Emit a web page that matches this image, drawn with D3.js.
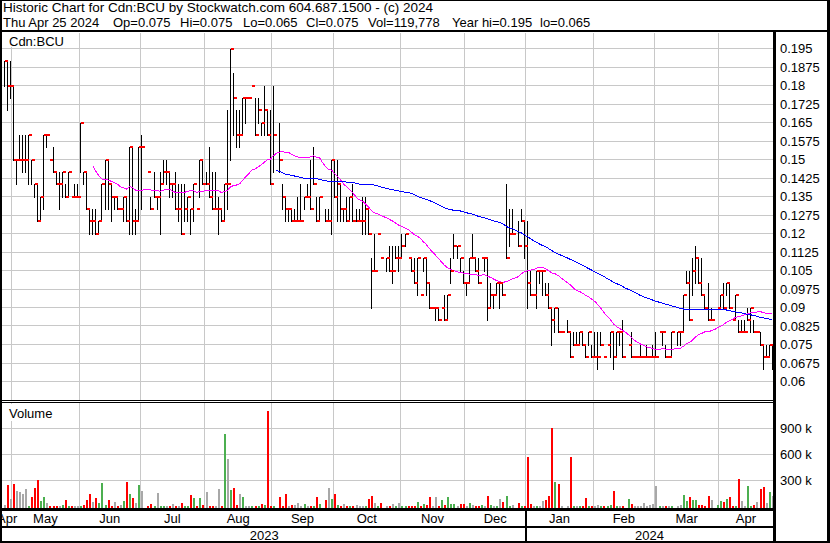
<!DOCTYPE html>
<html><head><meta charset="utf-8">
<script src="https://cdn.jsdelivr.net/npm/d3@7"></script>
<style>
html,body{margin:0;padding:0;background:#fff;}
svg{display:block;font-family:"Liberation Sans",Arial,sans-serif;}
text{font-size:13px;fill:#000;}
</style></head><body>
<svg id="c" width="830" height="543"></svg>
<script>
// ---- categories ----
const monthLabels = ["Apr","May","Jun","Jul","Aug","Sep","Oct","Nov","Dec","Jan","Feb","Mar","Apr"];
const monthBars   = [3,22,20,21,22,20,22,21,20,22,20,21,18];
const yearLabels  = ["2023","2024"];
const yearFirstMonth = [0, 9];

// ---- daily series (null = no trade) ----
const high = [
 .19,.19,.19,
 .18,.15,.16,.16,.16,.16,.15,.14,.14,.135,.16,.16,.15,.155,.145,.145,.145,.14,.145,.135,.14,.14,
 .165,.145,.145,.13,.13,.13,.125,.14,.15,.15,.14,.135,.135,.13,.135,.135,.155,.155,.13,.155,
 .16,null,.145,.135,.145,.135,.145,.15,.15,.145,.14,.145,.14,.14,.14,.135,.13,.14,.13,.15,.15,
 .145,.155,.145,.145,.135,.13,.14,.17,.195,.185,.17,.17,.175,.175,.175,.18,.175,.175,.165,.18,.17,.17,
 .18,null,.165,.14,.135,.13,.13,.13,.135,.14,.135,.14,.15,.155,.135,.135,null,.13,.13,.15,
 .15,.15,.14,.13,.135,.135,.14,.13,.13,.135,.135,.13,.11,.12,.12,.11,null,.11,.115,.115,.115,.115,
 .12,.12,.11,.11,.11,.11,.095,.11,.11,.10,.09,.09,.09,.09,.095,.095,.11,.12,.115,.11,.105,
 .10,.11,.12,.11,.11,.11,.11,.11,.10,.095,.10,.10,.10,.14,.13,.13,null,.125,.13,.125,
 .125,.105,.095,.105,.105,.105,.10,.10,.09,.09,.09,.08,null,.085,.08,.08,.08,.08,.08,.075,.08,.075,
 .08,.08,.08,.07,.075,.08,.08,.08,.08,.085,null,.075,.08,.07,.07,.075,.07,.075,.07,.075,
 .08,.08,.08,.075,.07,.08,null,.08,.08,.095,.105,.105,.11,.115,.11,.11,.095,.10,.09,null,.09,
 .095,.10,.10,.10,.085,.095,.085,.085,.085,.09,.09,.085,.08,.08,.075,.075,.075,.075
];
const low = [
 .18,.17,.175,
 .15,.14,.15,.145,.145,.14,.14,.135,.125,.125,.13,.155,.15,.145,.14,.13,.135,.135,.135,.135,.135,.135,
 .145,.14,.13,.12,.12,.12,.12,.125,.13,.13,.125,.13,.13,.13,.125,.125,.12,.12,.12,.125,
 .13,null,.145,.13,.135,.13,.12,.14,.14,.135,.135,.13,.125,.12,.125,.125,.12,.125,.13,.135,.14,
 .14,.135,.13,.13,.12,.125,.125,.13,.15,.16,.155,.155,.16,.165,.175,.18,.16,.165,.16,.16,.16,.14,
 .145,null,.145,.13,.125,.125,.125,.125,.125,.125,.13,.135,.13,.14,.125,.125,null,.125,.125,.12,
 .135,.125,.125,.125,.125,.125,.125,.125,.125,.12,.12,.12,.09,.105,.12,.11,null,.105,.105,.10,.11,.105,
 .11,.115,.11,.105,.10,.095,.095,.105,.095,.09,.09,.085,.085,.09,.085,.085,.10,.11,.11,.105,.10,
 .095,.10,.11,.105,.10,.11,.105,.085,.09,.09,.095,.09,.095,.11,.115,.12,null,.115,.125,.11,
 .09,.095,.095,.09,.10,.095,.095,.09,.075,.08,.08,.08,null,.08,.07,.075,.075,.075,.075,.07,.075,.07,
 .07,.065,.075,.07,.075,.07,.065,.07,.075,.07,null,.075,.07,.07,.07,.07,.07,.07,.07,.07,
 .07,.08,.075,.07,.07,.07,null,.075,.075,.08,.10,.085,.095,.10,.10,.095,.09,.085,.085,null,.09,
 .09,.09,.095,.09,.085,.085,.08,.08,.08,.085,.08,.08,.08,.075,.065,.07,.07,.065
];
const close = [
 .19,.18,.18,
 .15,.15,.15,.15,.15,.16,.15,.14,.125,.135,.16,.16,.15,.145,.14,.14,.145,.135,.145,.135,.135,.135,
 .165,.145,.13,.125,.125,.12,.125,.14,.15,.14,.135,.135,.13,.13,.135,.125,.155,.125,.125,.155,
 .155,null,.145,.13,.135,.135,.14,.145,.145,.14,.14,.13,.13,.12,.13,.135,.13,.14,.13,.15,.14,
 .14,.135,.13,.13,.13,.125,.14,.14,.195,.175,.16,.16,.175,.175,.175,.18,.16,.17,.165,.17,.16,.14,
 .16,null,.15,.135,.13,.13,.125,.125,.125,.125,.135,.135,.13,.14,.125,.135,null,.125,.125,.15,
 .135,.14,.13,.13,.125,.135,.125,.125,.125,.125,.13,.12,.105,.105,.12,.11,null,.11,.105,.105,.11,.11,
 .115,.12,.11,.105,.10,.11,.095,.11,.10,.09,.09,.09,.085,.09,.085,.095,.105,.115,.115,.11,.10,
 .10,.11,.11,.105,.10,.11,.11,.09,.095,.095,.10,.10,.095,.11,.12,.12,null,.115,.125,.115,
 .10,.095,.095,.105,.105,.105,.095,.09,.085,.09,.08,.08,null,.08,.07,.075,.075,.08,.075,.07,.08,.07,
 .07,.07,.075,.07,.075,.08,.07,.08,.08,.07,null,.075,.07,.07,.07,.07,.07,.07,.07,.07,
 .07,.08,.08,.07,.07,.08,null,.08,.08,.095,.10,.085,.105,.11,.10,.095,.09,.085,.085,null,.09,
 .095,.09,.10,.09,.085,.095,.08,.08,.08,.085,.09,.08,.08,.075,.07,.07,.075,.075
];
// volume in thousands of shares
const volumeK = [
 15,246,85,
 254,177,170,146,200,5,112,208,304,62,108,38,4,3,5,5,15,73,5,3,8,3,
 5,15,73,142,50,96,38,270,15,69,3,50,3,15,62,281,142,96,42,246,
 177,0,3,27,3,158,5,3,3,3,27,3,3,38,3,3,135,96,3,92,15,
 166,3,3,3,200,3,835,547,189,212,15,142,108,3,3,3,3,5,27,19,1100,3,
 3,0,104,3,142,3,15,15,35,3,27,3,8,8,108,27,0,73,212,85,
 142,15,5,27,3,3,5,15,3,5,3,85,119,38,5,38,0,3,3,27,3,38,
 3,3,3,5,3,50,3,27,15,108,3,108,5,73,15,108,27,27,3,27,27,
 3,38,15,3,3,15,3,119,15,3,3,85,50,119,5,15,0,38,3,5,
 570,27,3,5,3,62,73,119,900,281,258,3,0,5,570,5,3,3,3,96,3,3,
 5,15,5,3,5,15,173,3,3,3,0,85,27,5,3,3,38,5,15,27,
 235,5,3,5,3,3,0,5,15,131,62,108,73,73,15,15,5,119,73,0,15,
 62,50,85,108,3,5,315,62,3,235,5,15,50,200,223,38,166,120
];
const priorClose = 0.19;

// ---- tick labels / texts ----
const priceTicks = [0.195,0.1875,0.18,0.1725,0.165,0.1575,0.15,0.1425,0.135,0.1275,0.12,0.1125,0.105,0.0975,0.09,0.0825,0.075,0.0675,0.06];
const volumeTicks = [300,600,900];
const maPeriods = [30, 90];
const maColors = ["#ff00ff", "#0000ff"];
const headerLine1 = "Historic Chart for Cdn:BCU by Stockwatch.com 604.687.1500 - (c) 2024";
const headerItems = ["Thu Apr 25 2024","Op=0.075","Hi=0.075","Lo=0.065","Cl=0.075","Vol=119,778","Year hi=0.195","lo=0.065"];
const headerItemX = [3,113,180,243,306,368,452,540];

// ---- layout ----
const W = 830, H = 543;
const plotL = 2, plotR = 773, priceTop = 33, priceBot = 400, volTop = 403, volBot = 509;
const N = close.length;
const svg = d3.select("#c");
const x = d3.scaleLinear().domain([0, N - 1]).range([4.05, 772.3]);
const y = d3.scaleLinear().domain([0.06, 0.195]).range([381.5, 48.5]);
const yv = d3.scaleLinear().domain([0, 900]).range([506.3, 428.3]);
const gridC = "#c8c8c8";

svg.append("rect").attr("width", W).attr("height", H).attr("fill", "#fff");

const defs = svg.append("defs");
defs.append("clipPath").attr("id", "cp").append("rect")
  .attr("x", plotL).attr("y", priceTop).attr("width", plotR - plotL).attr("height", priceBot - priceTop);
defs.append("clipPath").attr("id", "cl").append("rect")
  .attr("x", plotL).attr("y", 511).attr("width", plotR - plotL).attr("height", 30);

// month boundaries
const cum = [0];
monthBars.forEach(c => cum.push(cum[cum.length - 1] + c));
const boundaries = cum.slice(1, monthBars.length).map(c => c - 0.5);
const px = v => Math.round(v) + 0.5;

const grid = svg.append("g").attr("stroke", gridC).attr("stroke-width", 1).attr("shape-rendering", "crispEdges");
priceTicks.forEach(t => grid.append("line").attr("x1", plotL).attr("x2", plotR).attr("y1", px(y(t) - 0.5)).attr("y2", px(y(t) - 0.5)));
volumeTicks.forEach(t => grid.append("line").attr("x1", plotL).attr("x2", plotR).attr("y1", px(yv(t) - 0.5)).attr("y2", px(yv(t) - 0.5)));
boundaries.forEach(b => {
  grid.append("line").attr("x1", px(x(b) - 0.5)).attr("x2", px(x(b) - 0.5)).attr("y1", priceTop).attr("y2", priceBot);
  grid.append("line").attr("x1", px(x(b) - 0.5)).attr("x2", px(x(b) - 0.5)).attr("y1", volTop).attr("y2", volBot);
});

// panel labels with white backing
svg.append("rect").attr("x", 3).attr("y", priceTop).attr("width", 62).attr("height", 14).attr("fill", "#fff");
svg.append("text").attr("x", 9).attr("y", 45.5).text("Cdn:BCU");
svg.append("rect").attr("x", 3).attr("y", volTop + 1).attr("width", 54).attr("height", 17).attr("fill", "#fff");
svg.append("text").attr("x", 9).attr("y", 418).text("Volume");

// price bars
const idx = d3.range(N).filter(i => close[i] != null);
const pg = svg.append("g").attr("clip-path", "url(#cp)").attr("shape-rendering", "crispEdges");
pg.selectAll("line.bar").data(idx.filter(i => high[i] > low[i])).join("line")
  .attr("x1", i => px(x(i) - 0.5)).attr("x2", i => px(x(i) - 0.5))
  .attr("y1", i => Math.round(y(high[i])) - 0.5).attr("y2", i => Math.round(y(low[i])) + 1)
  .attr("stroke", "#000").attr("stroke-width", 1);

// moving averages
const filled = [];
let lastC = priorClose;
close.forEach(c => { if (c != null) lastC = c; filled.push(lastC); });
maPeriods.forEach((p, k) => {
  const pts = d3.range(p - 1, N).map(i => [i, d3.mean(filled.slice(i - p + 1, i + 1))]);
  pg.append("path").datum(pts)
    .attr("d", d3.line().x(d => x(d[0])).y(d => y(d[1])))
    .attr("fill", "none").attr("stroke", maColors[k]).attr("stroke-width", 1);
});

pg.selectAll("rect.tick").data(idx).join("rect")
  .attr("x", i => Math.round(x(i) - 0.5) + 1).attr("width", 3)
  .attr("y", i => Math.round(y(close[i])) - 1).attr("height", 2)
  .attr("fill", "#ff0000");

// volume bars
const prevClose = [];
let pc = priorClose;
close.forEach(c => { prevClose.push(pc); if (c != null) pc = c; });
const volColor = i => close[i] > prevClose[i] ? "#4caf50" : (close[i] < prevClose[i] ? "#ff0000" : "#a8a8a8");
svg.append("g").attr("shape-rendering", "crispEdges")
  .selectAll("rect").data(idx.filter(i => volumeK[i] > 0)).join("rect")
  .attr("x", i => Math.round(x(i) - 0.5)).attr("width", 2)
  .attr("y", i => Math.round(Math.min(yv(volumeK[i]), 507))).attr("height", i => volBot - Math.round(Math.min(yv(volumeK[i]), 507)))
  .attr("fill", volColor);

// frame lines
const fr = svg.append("g").attr("fill", "#000").attr("shape-rendering", "crispEdges");
fr.append("rect").attr("x", 0).attr("y", 30).attr("width", W).attr("height", 2);
fr.append("rect").attr("x", 0).attr("y", 400).attr("width", plotR + 1).attr("height", 1);
fr.append("rect").attr("x", 0).attr("y", 402).attr("width", plotR + 1).attr("height", 1);
fr.append("rect").attr("x", 0).attr("y", 508).attr("width", plotR + 1).attr("height", 3);
fr.append("rect").attr("x", 0).attr("y", 526).attr("width", plotR + 1).attr("height", 2);
fr.append("rect").attr("x", 773).attr("y", 30).attr("width", 3).attr("height", H - 30);
fr.append("rect").attr("x", 0).attr("y", 0).attr("width", W).attr("height", 1);
fr.append("rect").attr("x", 0).attr("y", H - 2).attr("width", W).attr("height", 2);
fr.append("rect").attr("x", 0).attr("y", 0).attr("width", 2).attr("height", H);
fr.append("rect").attr("x", W - 3).attr("y", 0).attr("width", 3).attr("height", H);
const janB = x(cum[yearFirstMonth[1]] - 0.5);
fr.append("rect").attr("x", Math.round(janB - 0.5)).attr("y", 511).attr("width", 1.5).attr("height", 30);

// header
svg.append("text").attr("x", 3).attr("y", 12).style("font-size", "13.5px").text(headerLine1);
svg.append("g").selectAll("text").data(headerItems).join("text")
  .attr("x", (d, k) => headerItemX[k]).attr("y", 26.5).text(d => d);

// right axis labels
svg.append("g").selectAll("text").data(priceTicks).join("text")
  .attr("x", 780).attr("y", d => y(d)).attr("dy", "0.36em").text(d => String(d));
svg.append("g").selectAll("text").data(volumeTicks).join("text")
  .attr("x", 780).attr("y", d => yv(d)).attr("dy", "0.36em").text(d => d + " k");

// month labels (first one clipped by the plot edge, as in the source)
const lg = svg.append("g").attr("clip-path", "url(#cl)");
monthLabels.forEach((m, k) => {
  const a = Math.max(x(cum[k] - 0.5), plotL), b = Math.min(x(cum[k + 1] - 0.5), plotR);
  lg.append("text").attr("x", (a + b) / 2).attr("y", 523).attr("text-anchor", "middle").text(m);
});
yearLabels.forEach((yl, k) => {
  const m0 = yearFirstMonth[k], m1 = k + 1 < yearFirstMonth.length ? yearFirstMonth[k + 1] : monthLabels.length;
  const a = Math.max(x(cum[m0] - 0.5), plotL), b = Math.min(x(cum[m1] - 0.5), plotR);
  lg.append("text").attr("x", (a + b) / 2).attr("y", 539.5).attr("text-anchor", "middle").text(yl);
});
</script>
</body></html>
